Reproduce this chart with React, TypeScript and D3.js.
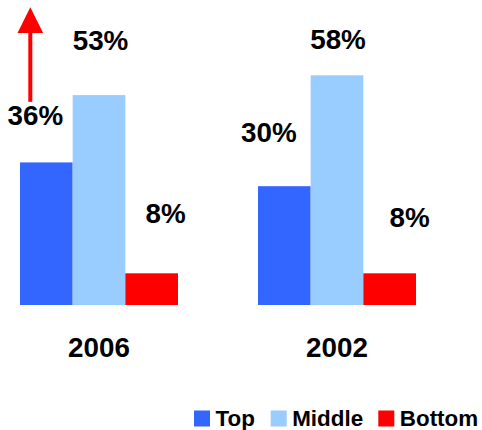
import React from "react";
import * as d3 from "d3";

// ---- data ----
const categories = ["2006", "2002"];
const seriesNames = ["Top", "Middle", "Bottom"];
const topValues = [36, 30];
const middleValues = [53, 58];
const bottomValues = [8, 8];
const valueLabels = [
  ["36%", "53%", "8%"],
  ["30%", "58%", "8%"],
];

// ---- styles / layout ----
const colors = ["#3366FF", "#99CCFF", "#FF0000"];
const W = 482;
const H = 430;
const FONT = "'Liberation Sans', Arial, Helvetica, sans-serif";
// hand-placed label offsets (dx from bar centre, dy above bar top), per category, per series
const labelOffsets = [
  [[-11, 37.5], [1.5, 45], [14, 50]],
  [[-15.5, 44], [1, 26], [20, 46]],
];
const legendX = [194, 270.7, 378.3];

export default function App() {
  const series = [topValues, middleValues, bottomValues];

  const x0 = d3
    .scaleBand<string>()
    .domain(categories)
    .range([20, 416])
    .paddingInner(80 / 238)
    .paddingOuter(0);

  const x1 = d3
    .scaleBand<string>()
    .domain(seriesNames)
    .range([0, x0.bandwidth()])
    .padding(0);

  const y = d3.scaleLinear().domain([0, 58]).range([305, 75.3]);

  // arrow annotation anchored to the 2006 "Top" bar
  const arrowX = (x0("2006") as number) + 10.3;
  const arrowBottom = y(51.3);
  const arrowBase = y(68.7);
  const arrowTip = y(75.2);

  return (
    <svg
      width={W}
      height={H}
      style={{ position: "absolute", left: 0, top: 0, background: "#fff" }}
      fontFamily={FONT}
    >
      {categories.map((cat, ci) => {
        const gx = x0(cat) as number;
        return (
          <g key={cat}>
            {seriesNames.map((s, si) => {
              const v = series[si][ci];
              const bx = gx + (x1(s) as number);
              const bw = x1.bandwidth();
              const [dx, dy] = labelOffsets[ci][si];
              return (
                <g key={s}>
                  <rect
                    x={bx}
                    y={y(v)}
                    width={bw}
                    height={y(0) - y(v)}
                    fill={colors[si]}
                  />
                  <text
                    x={bx + bw / 2 + dx}
                    y={y(v) - dy}
                    textAnchor="middle"
                    fontWeight="bold"
                    fontSize={27.8}
                    fill="#000"
                  >
                    {valueLabels[ci][si]}
                  </text>
                </g>
              );
            })}
            <text
              x={gx + x0.bandwidth() / 2}
              y={357}
              textAnchor="middle"
              fontWeight="bold"
              fontSize={27.8}
              fill="#000"
            >
              {cat}
            </text>
          </g>
        );
      })}

      {/* arrow */}
      <line
        x1={arrowX}
        x2={arrowX}
        y1={arrowBottom}
        y2={arrowBase}
        stroke="#FF0000"
        strokeWidth={4}
      />
      <polygon
        points={`${arrowX - 12.8},${arrowBase} ${arrowX + 12.8},${arrowBase} ${arrowX},${arrowTip}`}
        fill="#FF0000"
      />

      {/* legend */}
      {seriesNames.map((s, si) => (
        <g key={s} transform={`translate(${legendX[si]},0)`}>
          <rect x={0} y={410.5} width={16} height={16} fill={colors[si]} />
          <text x={21.5} y={425.5} fontWeight="bold" fontSize={22.4} fill="#000">
            {s}
          </text>
        </g>
      ))}
    </svg>
  );
}
